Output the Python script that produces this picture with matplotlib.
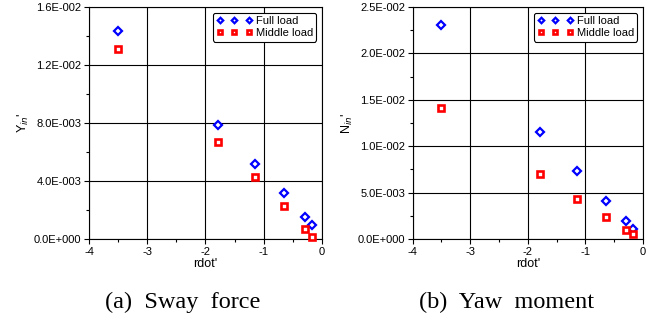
import matplotlib
matplotlib.use("Agg")
import matplotlib.pyplot as plt
from matplotlib.ticker import MultipleLocator, FuncFormatter

# rdot' values (same for both panels)
rdot = [-3.51, -1.79, -1.15, -0.65, -0.30, -0.17]

# sway force Y_in'
sway_full = [0.01434, 0.00789, 0.00520, 0.00320, 0.00152, 0.00094]
sway_middle = [0.01313, 0.00669, 0.00428, 0.00225, 0.00069, 0.00014]

# yaw moment N_in'
yaw_full = [0.02310, 0.01153, 0.00729, 0.00413, 0.00190, 0.00111]
yaw_middle = [0.01412, 0.00700, 0.00435, 0.00241, 0.00101, 0.00054]

plt.rcParams['font.family'] = ['Liberation Sans', 'DejaVu Sans']


def sci_fmt(v, pos):
    if abs(v) < 1e-12:
        return "0.0E+000"
    s = "%.1E" % v
    mant, ex = s.split("E")
    ex = int(ex)
    sign = "-" if ex < 0 else "+"
    return "%sE%s%03d" % (mant, sign, abs(ex))


def style_panel(ax, ymax, ystep, ylabel):
    ax.set_xlim(-4, 0)
    ax.set_ylim(0, ymax)
    ax.xaxis.set_major_locator(MultipleLocator(1))
    ax.xaxis.set_minor_locator(MultipleLocator(0.5))
    ax.yaxis.set_major_locator(MultipleLocator(ystep))
    ax.yaxis.set_minor_locator(MultipleLocator(ystep / 2))
    ax.yaxis.set_major_formatter(FuncFormatter(sci_fmt))
    ax.xaxis.set_major_formatter(FuncFormatter(lambda v, p: "%d" % round(v)))
    ax.grid(True, which='major', color='black', linewidth=0.8)
    ax.set_axisbelow(True)
    ax.tick_params(which='major', direction='out', length=3.5, width=0.8, labelsize=8, pad=2)
    ax.tick_params(which='minor', direction='out', length=2, width=0.8)
    for sp in ax.spines.values():
        sp.set_linewidth(0.8)
    ax.set_xlabel("rdot'", fontsize=9, labelpad=1)
    ax.set_ylabel(ylabel, fontsize=9, labelpad=2)


def draw_points(ax, full, middle):
    ax.plot(rdot, full, linestyle='none', marker='D', markersize=4,
            markerfacecolor='white', markeredgecolor='#0000ff', markeredgewidth=1.6,
            label='Full load', clip_on=False, zorder=3)
    ax.plot(rdot, middle, linestyle='none', marker='s', markersize=4.5,
            markerfacecolor='white', markeredgecolor='#ff0000', markeredgewidth=1.9,
            label='Middle load', clip_on=False, zorder=3)
    leg = ax.legend(loc='upper right', numpoints=3, fontsize=8, frameon=True,
                    fancybox=True, framealpha=1, edgecolor='black',
                    markerscale=0.7, handlelength=3.2, handletextpad=0.35,
                    borderpad=0.3, labelspacing=0.2, borderaxespad=0.5)
    leg.get_frame().set_linewidth(0.8)
    leg.set_zorder(5)


fig = plt.figure(figsize=(6.53, 3.22), dpi=100)
ax1 = fig.add_axes([0.1363, 0.258, 0.3568, 0.720])
ax2 = fig.add_axes([0.632, 0.258, 0.3527, 0.720])

draw_points(ax1, sway_full, sway_middle)
style_panel(ax1, 0.016, 0.004, "Y$_{in}$'")

draw_points(ax2, yaw_full, yaw_middle)
style_panel(ax2, 0.025, 0.005, "N$_{in}$'")

fig.text(0.2795, 0.062, "(a)  Sway  force", ha='center', va='center',
         fontsize=17.5, family=['Liberation Serif', 'DejaVu Serif'])
fig.text(0.7765, 0.062, "(b)  Yaw  moment", ha='center', va='center',
         fontsize=17.5, family=['Liberation Serif', 'DejaVu Serif'])

fig.savefig("out.png", dpi=100)
